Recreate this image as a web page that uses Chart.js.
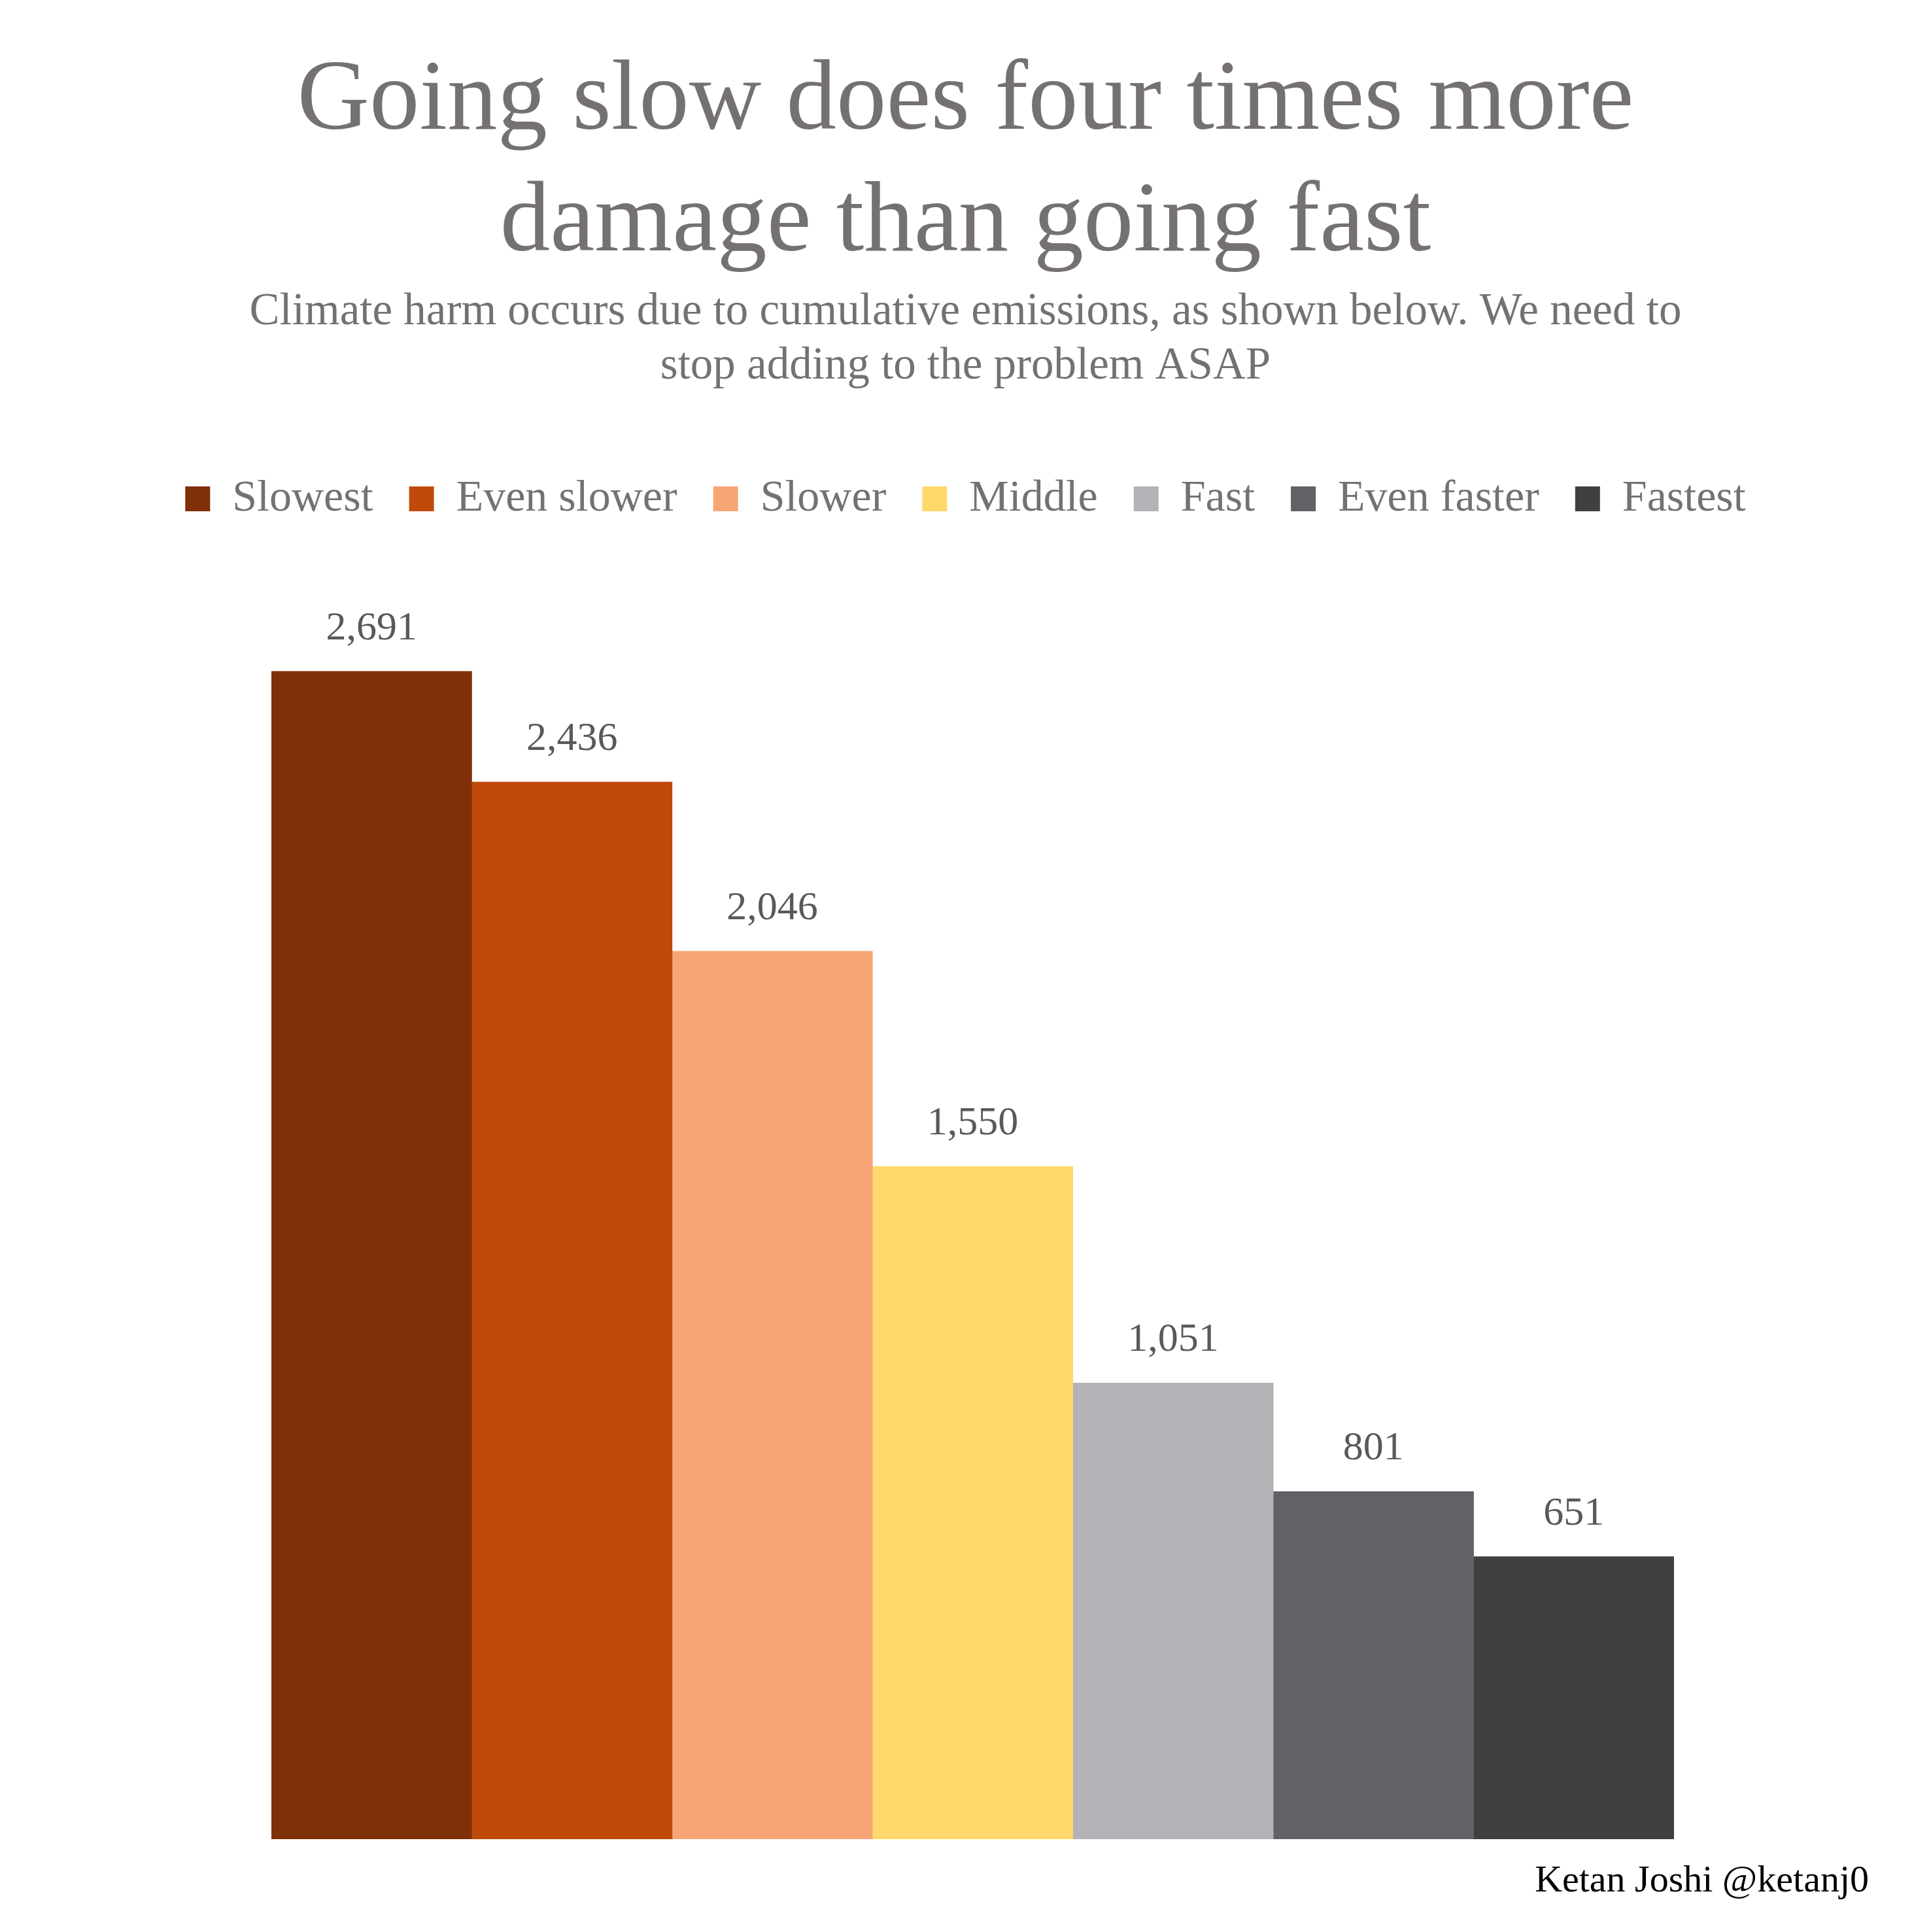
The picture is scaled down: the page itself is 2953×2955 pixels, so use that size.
<!DOCTYPE html>
<html>
<head>
<meta charset="utf-8">
<script src="https://cdn.jsdelivr.net/npm/chart.js@4"></script>
<style>
  html, body { margin: 0; padding: 0; background: #ffffff; }
  #wrap { width: 2953px; height: 2955px; }
</style>
</head>
<body>
<div id="wrap"><canvas id="barChart"></canvas></div>
<script>
// data
var categories = [""];
var seriesNames = ["Slowest", "Even slower", "Slower", "Middle", "Fast", "Even faster", "Fastest"];
var seriesValues = [2691, 2436, 2046, 1550, 1051, 801, 651];
var seriesColors = ["#7F3006", "#C04A09", "#F8A576", "#FED86A", "#B3B2B6", "#626166", "#404041"];

var serif = "'Liberation Serif', 'DejaVu Serif', serif";
var greyText = "#767171";

// one dataset per series so the legend lists them
var datasets = seriesNames.map(function (name, i) {
  return {
    label: name,
    data: [seriesValues[i]],
    backgroundColor: seriesColors[i],
    borderWidth: 0,
    barPercentage: 1,
    categoryPercentage: 1
  };
});

// invisible side axes just reserve the white margins left and right of the bars
function hiddenAxis(side, width, extra) {
  var axis = {
    position: side,
    display: true,
    grid: { display: false },
    border: { display: false },
    ticks: { display: false },
    afterFit: function (scale) { scale.width = width; }
  };
  for (var k in extra) axis[k] = extra[k];
  return axis;
}

// writes the value above each bar and the credit line at the bottom
var valueLabels = {
  id: "valueLabels",
  afterDatasetsDraw: function (chart) {
    var c = chart.ctx;
    c.save();
    c.font = "62px " + serif;
    c.fillStyle = "#595959";
    c.textAlign = "center";
    c.textBaseline = "alphabetic";
    chart.data.datasets.forEach(function (ds, i) {
      var bar = chart.getDatasetMeta(i).data[0];
      c.fillText(ds.data[0].toLocaleString("en-US"), bar.x, bar.y - 49);
    });
    c.restore();
  },
  afterDraw: function (chart) {
    var c = chart.ctx;
    c.save();
    c.font = "58px " + serif;
    c.fillStyle = "#000000";
    c.textAlign = "right";
    c.textBaseline = "alphabetic";
    c.fillText("Ketan Joshi @ketanj0", 2858, 2893);
    c.restore();
  }
};

var ctx = document.getElementById("barChart").getContext("2d");
var barChart = new Chart(ctx, {
  type: "bar",
  data: {
    labels: categories,
    datasets: datasets
  },
  options: {
    responsive: true,
    maintainAspectRatio: false,
    animation: false,
    devicePixelRatio: 1,
    layout: {
      padding: { left: 0, right: 0, top: 0, bottom: 142 }
    },
    scales: {
      x: { display: false },
      y: hiddenAxis("left", 415, { min: 0, max: 3022 }),
      y2: hiddenAxis("right", 393, { min: 0, max: 1 })
    },
    plugins: {
      title: {
        display: true,
        text: ["Going slow does four times more", "damage than going fast"],
        color: greyText,
        font: { family: serif, size: 153, weight: "normal", lineHeight: 1.216 },
        padding: { top: 64, bottom: 0 }
      },
      subtitle: {
        display: true,
        text: ["Climate harm occurs due to cumulative emissions, as shown below. We need to", "stop adding to the problem ASAP"],
        color: greyText,
        font: { family: serif, size: 69, weight: "normal", lineHeight: 1.203 },
        padding: { top: 0, bottom: 72 }
      },
      legend: {
        position: "top",
        labels: {
          color: greyText,
          font: { family: serif, size: 68 },
          boxWidth: 38,
          boxHeight: 38,
          padding: 55
        }
      },
      tooltip: { enabled: false }
    }
  },
  plugins: [valueLabels]
});
</script>
</body>
</html>
